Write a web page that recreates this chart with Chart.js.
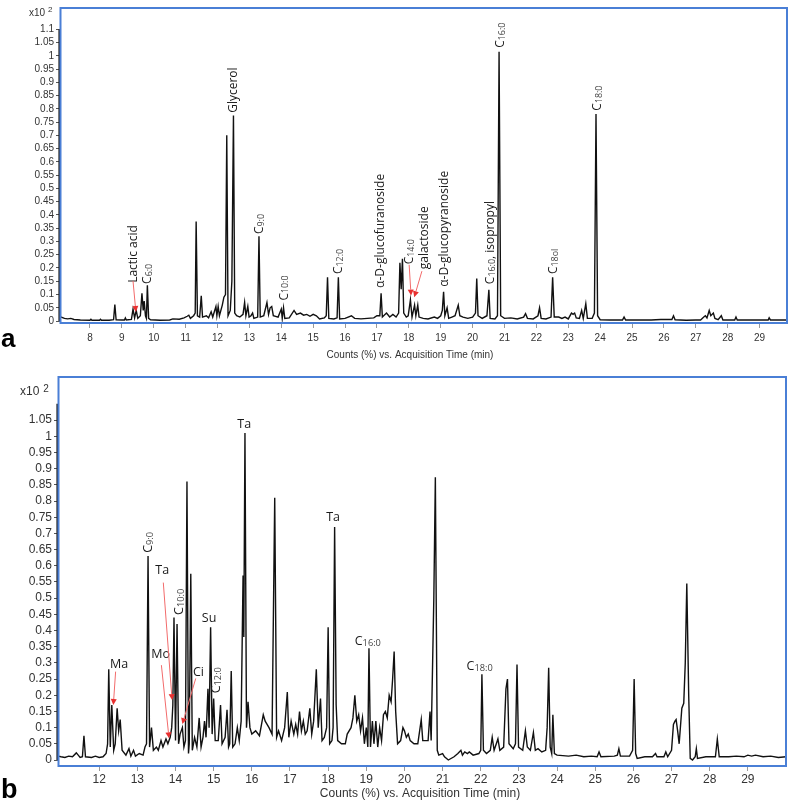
<!DOCTYPE html>
<html><head><meta charset="utf-8">
<script src="https://cdn.jsdelivr.net/npm/chart.js@4.4.1/dist/chart.umd.min.js"></script>
<style>
html,body{margin:0;padding:0;background:#fff;}
body{width:789px;height:801px;position:relative;overflow:hidden;}
canvas{position:absolute;left:0;}
#ca{top:0;} #cb{top:360px;}
</style></head><body>
<canvas id="ca" width="789" height="360"></canvas>
<canvas id="cb" width="789" height="441"></canvas>
<script>
// ---------- Panel a data ----------
const timeA = [7.06,7.1,7.2,7.3,7.4,7.5,7.7,8.0,8.03,8.06,8.3,8.33,8.36,8.6,8.74,8.78,8.82,9.0,9.08,9.11,9.14,9.3,9.35,9.4,9.45,9.5,9.58,9.63,9.67,9.7,9.74,9.77,9.8,9.84,9.9,10.2,10.5,10.6,10.8,10.95,11.05,11.1,11.15,11.25,11.3,11.33,11.37,11.44,11.49,11.53,11.65,11.72,11.8,11.85,11.95,11.98,12.02,12.06,12.15,12.2,12.25,12.29,12.33,12.4,12.45,12.5,12.54,12.6,12.7,12.8,12.85,12.89,12.95,12.99,13.05,13.1,13.14,13.26,13.3,13.34,13.45,13.55,13.6,13.65,13.7,13.75,13.9,14.0,14.03,14.07,14.11,14.25,14.4,14.48,14.6,14.7,14.8,14.9,15.0,15.1,15.2,15.35,15.41,15.45,15.49,15.65,15.75,15.79,15.83,16.0,16.2,16.3,16.5,16.7,16.9,17.0,17.09,17.13,17.17,17.3,17.4,17.5,17.6,17.68,17.72,17.76,17.8,17.84,17.92,17.98,18.05,18.1,18.18,18.22,18.28,18.32,18.45,18.6,18.8,18.9,19.0,19.05,19.09,19.13,19.2,19.25,19.35,19.45,19.55,19.6,19.7,19.85,20.0,20.09,20.13,20.17,20.3,20.45,20.51,20.55,20.7,20.78,20.83,20.88,21.0,21.2,21.4,21.6,21.66,21.72,21.9,22.05,22.1,22.15,22.3,22.46,22.51,22.56,22.7,22.8,22.9,23.0,23.1,23.15,23.2,23.25,23.35,23.42,23.47,23.55,23.6,23.75,23.82,23.87,23.92,24.0,24.3,24.7,24.75,24.8,25.2,25.6,25.9,26.25,26.3,26.35,26.7,27.0,27.15,27.25,27.3,27.35,27.42,27.47,27.55,27.6,27.7,27.8,27.85,28.0,28.22,28.26,28.3,28.6,29.0,29.27,29.3,29.34,29.6,29.86];
const countsA = [0.018,0.015,0.01,0.008,0.01,0.006,0.004,0.003,0.007,0.003,0.003,0.007,0.003,0.003,0.005,0.062,0.005,0.004,0.004,0.012,0.004,0.006,0.045,0.012,0.04,0.01,0.02,0.105,0.04,0.075,0.02,0.01,0.135,0.01,0.005,0.003,0.004,0.008,0.007,0.012,0.018,0.022,0.01,0.02,0.03,0.375,0.02,0.015,0.095,0.015,0.02,0.012,0.035,0.015,0.055,0.02,0.055,0.02,0.06,0.09,0.1,0.70,0.02,0.04,0.15,0.775,0.03,0.02,0.015,0.025,0.07,0.02,0.055,0.015,0.02,0.03,0.01,0.015,0.32,0.015,0.02,0.07,0.025,0.05,0.055,0.02,0.015,0.045,0.01,0.05,0.01,0.012,0.04,0.025,0.03,0.022,0.025,0.018,0.025,0.02,0.008,0.012,0.02,0.165,0.01,0.008,0.012,0.165,0.008,0.01,0.02,0.01,0.008,0.01,0.012,0.02,0.02,0.105,0.015,0.03,0.015,0.025,0.015,0.03,0.22,0.12,0.235,0.03,0.015,0.02,0.08,0.015,0.06,0.02,0.06,0.015,0.01,0.008,0.015,0.01,0.02,0.04,0.11,0.02,0.05,0.01,0.015,0.02,0.06,0.02,0.015,0.01,0.015,0.03,0.16,0.02,0.01,0.02,0.118,0.01,0.008,0.02,1.015,0.02,0.01,0.012,0.008,0.015,0.028,0.01,0.008,0.02,0.05,0.01,0.008,0.015,0.165,0.015,0.015,0.01,0.015,0.008,0.03,0.025,0.03,0.012,0.01,0.04,0.01,0.065,0.01,0.01,0.03,0.78,0.02,0.005,0.004,0.004,0.015,0.004,0.004,0.004,0.006,0.006,0.02,0.005,0.003,0.004,0.004,0.015,0.02,0.012,0.04,0.02,0.03,0.01,0.005,0.02,0.004,0.004,0.004,0.015,0.004,0.004,0.004,0.004,0.012,0.004,0.004,0.004];
const xTicksA = [8,9,10,11,12,13,14,15,16,17,18,19,20,21,22,23,24,25,26,27,28,29];
const yTicksA = [0,0.05,0.1,0.15,0.2,0.25,0.3,0.35,0.4,0.45,0.5,0.55,0.6,0.65,0.7,0.75,0.8,0.85,0.9,0.95,1,1.05,1.1];
const peakLabelsA = [
  {parts:['Lactic acid'], t:9.35, v:0.144, rot:true},
  {parts:['C','6:0'], t:9.79, v:0.14, rot:true},
  {parts:['Glycerol'], t:12.49, v:0.785, rot:true},
  {parts:['C','9:0'], t:13.30, v:0.328, rot:true},
  {parts:['C','10:0'], t:14.06, v:0.077, rot:true},
  {parts:['C','12:0'], t:15.78, v:0.177, rot:true},
  {parts:['α-D-glucofuranoside'], t:17.10, v:0.125, rot:true},
  {parts:['C','14:0'], t:18.01, v:0.214, rot:true},
  {parts:['galactoside'], t:18.46, v:0.195, rot:true},
  {parts:['α-D-glucopyranoside'], t:19.09, v:0.129, rot:true},
  {parts:['C','16:0',', isopropyl'], t:20.53, v:0.139, rot:true},
  {parts:['C','16:0'], t:20.84, v:1.03, rot:true},
  {parts:['C','18ol'], t:22.52, v:0.177, rot:true},
  {parts:['C','18:0'], t:23.88, v:0.793, rot:true}
];
const arrowsA = [
  {from:[9.35,0.151], to:[9.44,0.034]},
  {from:[18.01,0.212], to:[18.07,0.096]},
  {from:[18.41,0.188], to:[18.17,0.09]}
];

// ---------- Panel b data ----------
const timeB = [10.92,11.0,11.1,11.2,11.3,11.4,11.45,11.5,11.56,11.6,11.64,11.8,11.9,12.0,12.1,12.18,12.22,12.25,12.29,12.33,12.38,12.42,12.47,12.51,12.55,12.6,12.7,12.78,12.83,12.9,12.95,13.05,13.15,13.2,13.24,13.28,13.32,13.37,13.42,13.5,13.55,13.62,13.67,13.75,13.8,13.86,13.9,13.93,13.96,14.0,14.04,14.08,14.12,14.18,14.22,14.26,14.3,14.34,14.36,14.4,14.44,14.5,14.56,14.62,14.67,14.72,14.76,14.8,14.85,14.88,14.92,14.96,15.0,15.04,15.12,15.18,15.22,15.3,15.35,15.39,15.42,15.46,15.5,15.56,15.62,15.67,15.72,15.77,15.79,15.82,15.86,15.9,15.95,16.0,16.1,16.2,16.3,16.35,16.45,16.53,16.6,16.65,16.7,16.78,16.86,16.93,16.97,17.03,17.1,17.15,17.2,17.25,17.3,17.35,17.4,17.45,17.52,17.57,17.62,17.69,17.74,17.8,17.84,17.9,17.96,18.0,18.04,18.1,18.13,18.17,18.21,18.25,18.35,18.45,18.5,18.6,18.65,18.7,18.75,18.8,18.85,18.9,18.95,19.0,19.04,19.07,19.11,19.16,19.2,19.25,19.3,19.35,19.4,19.45,19.5,19.55,19.6,19.65,19.69,19.73,19.77,19.82,19.9,19.96,20.0,20.05,20.1,20.15,20.25,20.35,20.44,20.48,20.55,20.62,20.67,20.7,20.77,20.81,20.86,20.9,21.0,21.05,21.15,21.3,21.4,21.48,21.52,21.58,21.65,21.7,21.8,21.95,22.0,22.03,22.07,22.15,22.25,22.3,22.35,22.45,22.5,22.6,22.66,22.7,22.74,22.85,22.91,22.95,22.99,23.1,23.17,23.22,23.3,23.38,23.43,23.5,23.6,23.7,23.74,23.78,23.82,23.86,23.89,23.93,24.0,24.3,24.5,24.7,24.9,25.05,25.1,25.15,25.5,25.58,25.62,25.66,25.9,25.98,26.02,26.06,26.1,26.3,26.5,26.58,26.62,26.8,26.85,26.9,27.0,27.05,27.09,27.12,27.16,27.2,27.27,27.32,27.36,27.4,27.45,27.49,27.55,27.62,27.65,27.68,27.9,28.15,28.2,28.25,28.5,28.7,28.9,29.0,29.1,29.2,29.4,29.6,29.8,30.0];
const countsB = [0.012,0.01,0.008,0.012,0.01,0.022,0.015,0.008,0.01,0.075,0.01,0.008,0.012,0.008,0.01,0.02,0.05,0.28,0.04,0.17,0.03,0.05,0.16,0.09,0.125,0.03,0.015,0.035,0.012,0.03,0.012,0.02,0.015,0.04,0.05,0.63,0.04,0.1,0.03,0.04,0.03,0.06,0.04,0.065,0.05,0.07,0.1,0.17,0.44,0.06,0.42,0.05,0.08,0.1,0.04,0.06,0.86,0.02,0.05,0.575,0.03,0.07,0.04,0.13,0.04,0.07,0.12,0.07,0.22,0.1,0.41,0.08,0.19,0.06,0.06,0.17,0.05,0.07,0.155,0.04,0.05,0.275,0.04,0.05,0.1,0.06,0.12,0.57,0.38,1.01,0.1,0.18,0.1,0.08,0.09,0.075,0.14,0.12,0.1,0.08,0.81,0.07,0.09,0.06,0.1,0.21,0.07,0.12,0.08,0.11,0.08,0.15,0.09,0.12,0.08,0.09,0.16,0.08,0.12,0.28,0.1,0.19,0.06,0.07,0.1,0.41,0.05,0.06,0.1,0.72,0.17,0.06,0.05,0.05,0.08,0.1,0.13,0.2,0.12,0.14,0.09,0.13,0.05,0.1,0.04,0.345,0.04,0.12,0.05,0.12,0.04,0.1,0.06,0.14,0.15,0.13,0.2,0.18,0.25,0.335,0.15,0.05,0.06,0.1,0.09,0.07,0.08,0.06,0.05,0.05,0.125,0.06,0.06,0.06,0.15,0.06,0.5,0.873,0.03,0.015,0.02,0.01,0.0,0.01,0.02,0.03,0.015,0.025,0.02,0.025,0.015,0.02,0.03,0.265,0.03,0.02,0.03,0.07,0.03,0.065,0.03,0.04,0.22,0.25,0.05,0.035,0.05,0.295,0.04,0.03,0.09,0.04,0.03,0.085,0.03,0.035,0.025,0.03,0.1,0.285,0.04,0.02,0.14,0.02,0.015,0.012,0.015,0.01,0.012,0.01,0.025,0.01,0.012,0.015,0.035,0.012,0.012,0.03,0.25,0.02,0.005,0.01,0.01,0.02,0.01,0.01,0.025,0.01,0.03,0.11,0.12,0.125,0.09,0.05,0.16,0.175,0.3,0.545,0.2,0.005,0.0,0.01,0.035,0.005,0.01,0.01,0.065,0.01,0.01,0.012,0.01,0.015,0.012,0.015,0.01,0.012,0.008,0.01];
const xTicksB = [12,13,14,15,16,17,18,19,20,21,22,23,24,25,26,27,28,29];
const yTicksB = [0,0.05,0.1,0.15,0.2,0.25,0.3,0.35,0.4,0.45,0.5,0.55,0.6,0.65,0.7,0.75,0.8,0.85,0.9,0.95,1,1.05];
const peakLabelsB = [
  {parts:['Ma'], t:12.52, v:0.299, rot:false},
  {parts:['Ta'], t:13.65, v:0.589, rot:false},
  {parts:['Mo'], t:13.61, v:0.33, rot:false},
  {parts:['Ci'], t:14.60, v:0.273, rot:false},
  {parts:['Su'], t:14.88, v:0.44, rot:false},
  {parts:['Ta'], t:15.80, v:1.038, rot:false},
  {parts:['Ta'], t:18.13, v:0.751, rot:false},
  {parts:['C','16:0'], t:19.04, v:0.368, rot:false},
  {parts:['C','18:0'], t:21.97, v:0.291, rot:false},
  {parts:['C','9:0'], t:13.27, v:0.64, rot:true},
  {parts:['C','10:0'], t:14.07, v:0.448, rot:true},
  {parts:['C','12:0'], t:15.06, v:0.206, rot:true}
];
const arrowsB = [
  {from:[12.43,0.273], to:[12.37,0.17]},
  {from:[13.68,0.548], to:[13.91,0.185]},
  {from:[13.63,0.293], to:[13.83,0.067]},
  {from:[14.53,0.252], to:[14.18,0.111]}
];

// ---------- drawing helpers ----------
function drawParts(ctx, parts, x, y, rot, size) {
  const sizes = parts.map((p,i)=> i%2===1 ? size*0.74 : size);
  const widths = parts.map((p,i)=>{ ctx.font = sizes[i]+'px "Open Sans"'; return ctx.measureText(p).width; });
  const total = widths.reduce((a,b)=>a+b,0);
  ctx.save();
  ctx.translate(x,y);
  if (rot) ctx.rotate(-Math.PI/2);
  let cx = rot ? 0 : -total/2;
  const base = size*0.36;
  ctx.textAlign='left'; ctx.textBaseline='alphabetic';
  parts.forEach((p,i)=>{
    ctx.font = sizes[i]+'px "Open Sans"';
    ctx.fillStyle = i%2===1 ? '#444' : '#1a1a1a';
    ctx.fillText(p, cx, base + (i%2===1 ? size*0.08 : 0));
    cx += widths[i];
  });
  ctx.restore();
}
function drawArrow(ctx, x1,y1,x2,y2) {
  ctx.save();
  ctx.strokeStyle='#f26b6b'; ctx.fillStyle='#e83030'; ctx.lineWidth=1;
  const ang=Math.atan2(y2-y1,x2-x1), L=6, W=3;
  const bx=x2-L*Math.cos(ang), by=y2-L*Math.sin(ang);
  ctx.beginPath(); ctx.moveTo(x1,y1); ctx.lineTo(bx,by); ctx.stroke();
  ctx.beginPath(); ctx.moveTo(x2,y2);
  ctx.lineTo(bx+W*Math.sin(ang), by-W*Math.cos(ang));
  ctx.lineTo(bx-W*Math.sin(ang), by+W*Math.cos(ang));
  ctx.closePath(); ctx.fill();
  ctx.restore();
}
function decor(cfg){
  return { id:'decor'+cfg.id, afterDraw(chart){
    const ctx=chart.ctx, ca=chart.chartArea, xs=chart.scales.x, ys=chart.scales.y;
    ctx.save();
    ctx.strokeStyle='#222'; ctx.lineWidth=1.6;
    ctx.beginPath(); ctx.moveTo(ca.left-0.8, ys.getPixelForValue(cfg.yAxisTop)); ctx.lineTo(ca.left-0.8, ys.getPixelForValue(0)); ctx.stroke();
    ctx.strokeStyle='#4a7fd6'; ctx.lineWidth=2;
    ctx.strokeRect(ca.left+0.5, ca.top, ca.right-ca.left-0.5, ca.bottom-ca.top);
    cfg.labels.forEach(l=> drawParts(ctx, l.parts, xs.getPixelForValue(l.t), ys.getPixelForValue(l.v), l.rot, cfg.labelSize));
    cfg.arrows.forEach(a=> drawArrow(ctx, xs.getPixelForValue(a.from[0]), ys.getPixelForValue(a.from[1]), xs.getPixelForValue(a.to[0]), ys.getPixelForValue(a.to[1])));
    ctx.fillStyle='#333'; ctx.font=cfg.fs+'px "Liberation Sans"'; ctx.textAlign='center'; ctx.textBaseline='middle';
    ctx.fillText('Counts (%) vs. Acquisition Time (min)', cfg.titleX, cfg.titleY);
    ctx.textAlign='left';
    ctx.fillText('x10', cfg.multX, cfg.multY);
    ctx.font=(cfg.fs-2)+'px "Liberation Sans"';
    ctx.fillText('2', cfg.multX + ctx.measureText('x10').width*1.25 + 3, cfg.multY-3);
    ctx.fillStyle='#000'; ctx.font='bold '+cfg.letterSize+'px "Liberation Sans"'; ctx.textBaseline='alphabetic';
    ctx.fillText(cfg.letter, 1, cfg.letterY);
    ctx.restore();
  }};
}
function makeChart(cfg){
  return new Chart(document.getElementById(cfg.id), {
    type:'line',
    data:{datasets:[{data: cfg.time.map((t,i)=>({x:t, y:cfg.counts[i]})), borderColor:'#111', borderWidth:1.4, pointRadius:0, tension:0, fill:false}]},
    options:{
      responsive:false, animation:false, devicePixelRatio:1,
      layout:{padding:{top:cfg.padTop, right:cfg.padRight, left:0, bottom:0}},
      plugins:{legend:{display:false}, tooltip:{enabled:false}},
      scales:{
        x:{type:'linear', min:cfg.xMin, max:cfg.xMax,
          afterBuildTicks: ax => { ax.ticks = cfg.xTicks.map(v=>({value:v})); },
          afterFit: ax => { ax.height = cfg.xAxisH; },
          ticks:{autoSkip:false, maxRotation:0, font:{family:'Liberation Sans', size:cfg.fs}, color:'#333', padding:cfg.xPad},
          grid:{drawOnChartArea:false, drawTicks:true, tickLength:5, color:'#999'},
          border:{display:false}},
        y:{type:'linear', min:cfg.yMin, max:cfg.yMax,
          afterBuildTicks: ax => { ax.ticks = cfg.yTicks.map(v=>({value:v})); },
          afterFit: ax => { ax.width = cfg.yAxisW; },
          ticks:{autoSkip:false, font:{family:'Liberation Sans', size:cfg.fs}, color:'#333', padding:2,
            callback: v => String(+(+v).toFixed(2))},
          grid:{drawOnChartArea:false, drawTicks:true, tickLength:4, color:'#555'},
          border:{display:false}}
      }
    },
    plugins:[decor(cfg)]
  });
}

makeChart({id:'ca', time:timeA, counts:countsA, xTicks:xTicksA, yTicks:yTicksA,
  xMin:7.06, xMax:29.86, yMin:-0.0074, yMax:1.18, yAxisTop:1.1,
  padTop:1, padRight:2, xAxisH:37, yAxisW:60, fs:10, xPad:4,
  labels:peakLabelsA, arrows:arrowsA, labelSize:12,
  titleX:410, titleY:355, multX:29, multY:13, letter:'a', letterSize:26, letterY:347});
makeChart({id:'cb', time:timeB, counts:countsB, xTicks:xTicksB, yTicks:yTicksB,
  xMin:10.92, xMax:30.0, yMin:-0.0185, yMax:1.183, yAxisTop:1.1,
  padTop:17, padRight:3, xAxisH:35, yAxisW:58, fs:12, xPad:1,
  labels:peakLabelsB, arrows:arrowsB, labelSize:12.5,
  titleX:420, titleY:434, multX:20, multY:32, letter:'b', letterSize:27, letterY:438});
</script>
</body></html>
